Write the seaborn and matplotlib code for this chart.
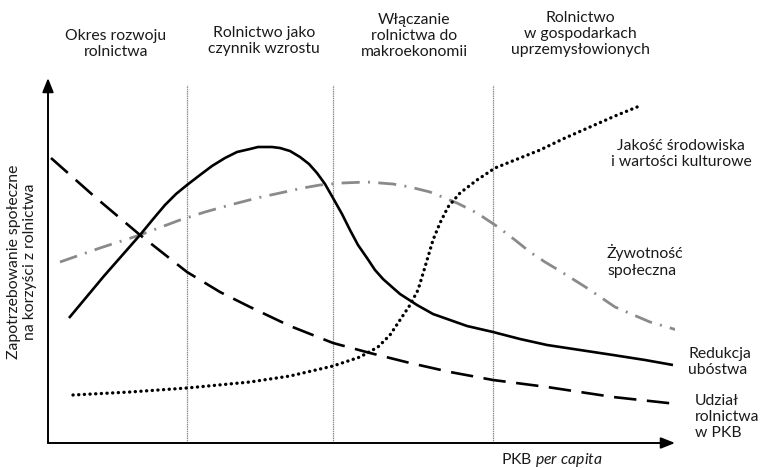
import matplotlib
matplotlib.use("Agg")
import matplotlib.pyplot as plt
import seaborn as sns

sns.set_theme(style="white")
plt.rcParams['font.family'] = ['Lato', 'DejaVu Sans']
plt.rcParams['mathtext.fontset'] = 'custom'
plt.rcParams['mathtext.rm'] = 'Lato'
plt.rcParams['mathtext.it'] = 'Lato:italic'

# --- data (GDP per capita units, demand units) ---
poverty_x = [21, 56, 92, 106, 117, 128, 139, 152, 164, 177, 189, 202, 210, 217, 224, 232,
             242, 252, 261, 269, 277, 285, 294, 302, 310, 319, 327, 335, 344, 352, 369,
             385, 402, 419, 445, 472, 499, 532, 565, 597, 625]
poverty_y = [125, 167, 208, 225, 238, 249, 258, 268, 277, 285, 291, 294, 296, 296, 296, 295,
             292, 286, 279, 270, 259, 245, 229, 213, 198, 185, 173, 164, 156, 149, 138,
             129, 123, 117, 111, 104, 98, 93, 88, 83, 78]

agri_x = [3, 47, 92, 139, 172, 202, 242, 285, 322, 362, 402, 445, 499, 565, 629]
agri_y = [285, 246, 208, 171, 151, 136, 117, 100, 90, 80, 71, 63, 56, 46, 39]

social_x = [12, 52, 92, 132, 157, 182, 209, 232, 255, 272, 294, 319, 345, 362, 382, 409,
            429, 450, 467, 482, 497, 512, 539, 567, 602, 629]
social_y = [181, 195, 208, 223, 231, 238, 245, 250, 255, 258, 260, 261, 259, 256, 251, 240,
            230, 216, 203, 191, 181, 172, 155, 136, 121, 113]

env_x = [25, 82, 139, 202, 242, 285, 312, 330, 342, 352, 362, 370, 377, 385, 392, 400,
         412, 429, 447, 472, 492, 517, 542, 567, 594]
env_y = [48, 51, 55, 61, 67, 77, 86, 96, 108, 123, 138, 153, 176, 203, 220, 236,
         250, 263, 275, 285, 293, 305, 316, 327, 338]

stage_bounds = [139, 285, 445]
stage_labels = ["Okres rozwoju\nrolnictwa",
                "Rolnictwo jako\nczynnik wzrostu",
                "Włączanie\nrolnictwa do\nmakroekonomii",
                "Rolnictwo\nw gospodarkach\nuprzemysłowionych"]
series_labels = ["Jakość środowiska\ni wartości kulturowe",
                 "Żywotność\nspołeczna",
                 "Redukcja\nubóstwa",
                 "Udział\nrolnictwa\nw PKB"]

W, H = 764, 468
fig = plt.figure(figsize=(W / 100, H / 100), dpi=100)
ax = fig.add_axes([48 / W, 25 / H, 627 / W, 365 / H])
ax.set_xlim(0, 627)
ax.set_ylim(0, 365)
ax.set_axis_off()

def fx(px):
    return px / W

def fy(py):
    return 1 - py / H

# stage dividers
for b in stage_bounds:
    ax.plot([b, b], [0, 358], color="#8c8c8c", lw=0.9, ls=(0, (1.2, 0.6)), zorder=1)

sns.lineplot(x=poverty_x, y=poverty_y, ax=ax, color="black", linewidth=1.9,
             solid_capstyle="butt", solid_joinstyle="round", zorder=3, sort=False)
sns.lineplot(x=agri_x, y=agri_y, ax=ax, color="black", linewidth=1.9,
             linestyle=(0, (8.5, 4.0)), dash_capstyle="butt", zorder=3, sort=False)
sns.lineplot(x=social_x, y=social_y, ax=ax, color="#8a8a8a", linewidth=2.0,
             linestyle=(0, (6.5, 3.0, 0.7, 3.0)), dash_capstyle="butt", zorder=2, sort=False)
sns.lineplot(x=env_x, y=env_y, ax=ax, color="black", linewidth=2.4,
             linestyle=(0, (0.05, 1.65)), dash_capstyle="round", zorder=3, sort=False)

# axes with arrows
arrow = dict(arrowstyle="-|>,head_length=0.7,head_width=0.28", color="black", lw=1.4,
             shrinkA=0, shrinkB=0)
ax.annotate("", xy=(0, 1), xytext=(0, 0), xycoords="axes fraction", arrowprops=arrow)
ax.annotate("", xy=(1, 0), xytext=(0, 0), xycoords="axes fraction", arrowprops=arrow)

txt = dict(color="#1a1a1a", fontsize=11.3, linespacing=1.2)

# stage headers
header_pos = [(116, 44), (264, 41), (414, 36), (580, 34)]
for lab, (px, py) in zip(stage_labels, header_pos):
    fig.text(fx(px), fy(py), lab, ha="center", va="center", multialignment="center", **txt)

# series labels
fig.text(fx(681), fy(154), series_labels[0], ha="center", va="center",
         multialignment="center", **txt)
fig.text(fx(607), fy(261), series_labels[1], ha="left", va="center", **txt)
fig.text(fx(688), fy(362), series_labels[2], ha="left", va="center", **txt)
fig.text(fx(695), fy(417), series_labels[3], ha="left", va="center", **txt)

# axis titles
fig.text(fx(552), fy(460), r"PKB $\it{per\ capita}$", ha="center", va="center", **txt)
fig.text(fx(22), fy(262), "Zapotrzebowanie społeczne\nna korzyści z rolnictwa",
         ha="center", va="center", rotation=90, multialignment="center", **txt)

fig.savefig("out.png", dpi=100)
